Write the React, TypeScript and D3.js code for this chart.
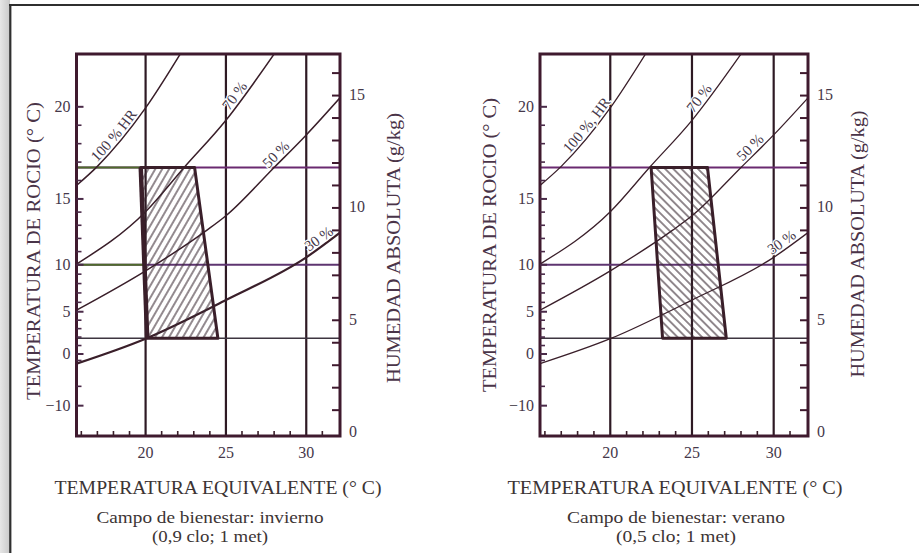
import React from "react";
import * as d3 from "d3";

// temperatura equivalente (°C)
const tempDomain = [15.7, 32.1];
const tempMinorTicks = [16, 17, 18, 19, 21, 22, 23, 24, 26, 27, 28, 29, 31];
const tempGridLines = [20, 25, 30];
const tempLabels = [20, 25, 30];

// humedad absoluta (g/kg)
const humDomain = [-0.15, 16.85];
const humTicks = [1, 2, 3, 4, 5, 6, 7, 8, 9, 10, 11, 12, 13, 14, 15, 16];
const humLabels = [0, 5, 10, 15];

// temperatura de rocio (°C) read against the humidity scale
const dewPoints = [-10, -5, 0, 5, 10, 15, 20];
const dewHumidity = [1.2, 2.06, 3.5, 5.38, 7.47, 10.4, 14.5];
const dewLabels = [-10, 0, 5, 10, 15, 20];
const dewMinorTicks = [-5, -1, 1, 2, 3, 4, 6, 7, 8, 9, 11, 12, 13, 14, 16, 17, 18, 19];
const dewGridLine = 10;

// relative humidity curves: [temperature, g/kg]
const rh100 = [[15.7, 11.0], [17, 11.85], [20, 14.45], [22.2, 16.9]];
const rh70 = [[15.7, 7.5], [20, 9.83], [22.4, 11.8], [25, 13.9], [28.05, 16.9]];
const rh50 = [[15.7, 5.45], [20, 7.2], [23.8, 9.0], [25, 9.65], [28, 11.8], [30, 13.25], [32.1, 14.9]];
const rh30 = [[15.7, 3.07], [20, 4.18], [25, 5.9], [30, 7.8], [32.1, 8.9]];
const rhCurves = [rh100, rh70, rh50, rh30];

// comfort limits
const limitHumidity = [4.2, 11.8];
const winterZone = [[19.7, 11.8], [23.05, 11.8], [24.5, 4.2], [20.1, 4.2]];
const summerZone = [[22.5, 11.8], [25.95, 11.8], [27.1, 4.2], [23.2, 4.2]];

const winterCurveLabels = ["100 % HR", "70 %", "50 %", "30 %"];
const summerCurveLabels = ["100 %, HR", "70 %", "50 %", "30 %"];

const TOP = 54;
const BOTTOM = 436;
const FONT = "'Liberation Serif', 'Times New Roman', serif";
const INK = "#3a1f2a";
const TEXT = "#45384a";

const minus = (d: number) => (d < 0 ? "\u2212" + Math.abs(d) : String(d));

function Panel(props: any) {
  const { id, left, right, zone, hatchAngle, hatchGap, curveLabels, labelAt, curveWidths, green, t } = props;

  const x = d3.scaleLinear().domain(tempDomain).range([left, right]);
  const y = d3.scaleLinear().domain(humDomain).range([BOTTOM, TOP]);
  const dew = d3.scaleLinear().domain(dewPoints).range(dewHumidity);
  const line = d3
    .line<number[]>()
    .x((d) => x(d[0]))
    .y((d) => y(d[1]))
    .curve(d3.curveMonotoneX);
  const zonePath = d3.line<number[]>().x((d) => x(d[0])).y((d) => y(d[1]))(zone) + "Z";

  const hLines = [
    { h: limitHumidity[1], color: "#6a2a70", w: 2 },
    { h: dew(dewGridLine), color: "#5e3570", w: 2 },
    { h: limitHumidity[0], color: "#3d3540", w: 1.5 },
  ];

  return (
    <g>
      <defs>
        <clipPath id={`${id}-clip`}>
          <rect x={left} y={TOP} width={right - left} height={BOTTOM - TOP} />
        </clipPath>
        <pattern
          id={`${id}-hatch`}
          patternUnits="userSpaceOnUse"
          width={hatchGap}
          height={20}
          patternTransform={`rotate(${hatchAngle})`}
        >
          <line x1={hatchGap / 2} y1={-2} x2={hatchGap / 2} y2={22} stroke="#3a2a32" strokeWidth={1.1} />
        </pattern>
      </defs>

      {/* grid */}
      {tempGridLines.map((d) => (
        <line key={`v${d}`} x1={x(d)} x2={x(d)} y1={TOP} y2={BOTTOM} stroke="#2e1a24" strokeWidth={2.2} />
      ))}
      {hLines.map((l, i) => (
        <line key={`h${i}`} x1={left} x2={right} y1={y(l.h)} y2={y(l.h)} stroke={l.color} strokeWidth={l.w} />
      ))}
      {green &&
        hLines.slice(0, 2).map((l, i) => (
          <line key={`g${i}`} x1={left} x2={x(19.9)} y1={y(l.h)} y2={y(l.h)} stroke="#4f6a2c" strokeWidth={2} />
        ))}

      {/* humidity curves */}
      <g clipPath={`url(#${id}-clip)`}>
        {rhCurves.map((c, i) => (
          <path key={`c${i}`} id={`${id}-rh${i}`} d={line(c) || ""} fill="none" stroke={INK} strokeWidth={curveWidths[i]} />
        ))}
      </g>

      {/* comfort zone */}
      <path d={zonePath} fill={`url(#${id}-hatch)`} stroke={INK} strokeWidth={3} strokeLinejoin="round" />
      {green && (
        <line x1={x(zone[0][0])} y1={y(zone[0][1])} x2={x(zone[3][0])} y2={y(zone[3][1])} stroke={INK} strokeWidth={4.5} />
      )}

      {curveLabels.map((s: string, i: number) => (
        <text
          key={`l${i}`}
          fontFamily={FONT}
          fontSize={15}
          fill={TEXT}
          stroke="#fff"
          strokeWidth={2.5}
          paintOrder="stroke"
          textAnchor="middle"
          dy={-3}
          style={{ whiteSpace: "pre" }}
        >
          <textPath href={`#${id}-rh${i}`} startOffset={`${labelAt[i]}%`}>
            {s}
          </textPath>
        </text>
      ))}

      {/* frame */}
      <rect x={left} y={TOP} width={right - left} height={BOTTOM - TOP} fill="none" stroke="#3f1a2e" strokeWidth={3} />

      {/* bottom axis */}
      {tempMinorTicks.map((d) => (
        <line key={`bt${d}`} x1={x(d)} x2={x(d)} y1={BOTTOM} y2={BOTTOM - 5} stroke={INK} strokeWidth={1.6} />
      ))}
      {tempLabels.map((d) => (
        <text key={`bl${d}`} x={x(d)} y={BOTTOM + 22} textAnchor="middle" fontFamily={FONT} fontSize={16} fill={TEXT}>
          {d}
        </text>
      ))}

      {/* left axis: dew point */}
      {dewLabels.map((d) => (
        <line key={`lt${d}`} x1={left} x2={left + 7} y1={y(dew(d))} y2={y(dew(d))} stroke="#4a2a48" strokeWidth={2} />
      ))}
      {dewMinorTicks.map((d) => (
        <line key={`lm${d}`} x1={left} x2={left + 5} y1={y(dew(d))} y2={y(dew(d))} stroke="#4a2a48" strokeWidth={1.6} />
      ))}
      {dewLabels.map((d) => (
        <text
          key={`ll${d}`}
          x={left - 6}
          y={y(dew(d))}
          dominantBaseline="central"
          textAnchor="end"
          fontFamily={FONT}
          fontSize={16}
          fill={TEXT}
        >
          {minus(d)}
        </text>
      ))}

      {/* right axis: absolute humidity */}
      {humTicks.map((d) => (
        <line key={`rt${d}`} x1={right} x2={right - 8} y1={y(d)} y2={y(d)} stroke="#3f1a2e" strokeWidth={2} />
      ))}
      {humLabels.map((d) => (
        <text
          key={`rl${d}`}
          x={right + 9}
          y={y(d) - 1}
          dominantBaseline="central"
          fontFamily={FONT}
          fontSize={16}
          fill={TEXT}
        >
          {d}
        </text>
      ))}

      {/* titles */}
      <text
        transform={`translate(${t.dewX},${t.dewY}) rotate(-90)`}
        textAnchor="middle"
        dominantBaseline="central"
        fontFamily={FONT}
        fontSize={18}
        fill="#4a3448"
        textLength={t.dewLen}
        lengthAdjust="spacingAndGlyphs"
      >
        TEMPERATURA DE ROCIO (° C)
      </text>
      <text
        transform={`translate(${t.humX},${t.humY}) rotate(-90)`}
        textAnchor="middle"
        dominantBaseline="central"
        fontFamily={FONT}
        fontSize={18}
        fill="#4a3448"
        textLength={t.humLen}
        lengthAdjust="spacingAndGlyphs"
      >
        HUMEDAD ABSOLUTA (g/kg)
      </text>
      <text
        x={t.xX}
        y={494}
        textAnchor="middle"
        fontFamily={FONT}
        fontSize={18}
        fill="#3c3434"
        textLength={t.xLen}
        lengthAdjust="spacingAndGlyphs"
      >
        TEMPERATURA EQUIVALENTE (° C)
      </text>
      <text
        x={t.subX}
        y={523}
        textAnchor="middle"
        fontFamily={FONT}
        fontSize={17}
        fill="#3c3434"
        textLength={t.sub1Len}
        lengthAdjust="spacingAndGlyphs"
      >
        {t.sub1}
      </text>
      <text
        x={t.subX}
        y={542}
        textAnchor="middle"
        fontFamily={FONT}
        fontSize={17}
        fill="#3c3434"
        textLength={t.sub2Len}
        lengthAdjust="spacingAndGlyphs"
      >
        {t.sub2}
      </text>
    </g>
  );
}

export default function App() {
  return (
    <svg width={919} height={553} style={{ position: "absolute", left: 0, top: 0, background: "#fff" }}>
      <defs>
        <linearGradient id="edge" x1="0" x2="1" y1="0" y2="0">
          <stop offset="0" stopColor="#e6e6e6" />
          <stop offset="1" stopColor="#c9c9c9" />
        </linearGradient>
      </defs>
      <rect x={0} y={0} width={919} height={553} fill="#fff" />
      <rect x={0} y={0} width={10} height={553} fill="url(#edge)" />
      <line x1={9} x2={919} y1={5} y2={5} stroke="#2f2f2f" strokeWidth={2} />
      <line x1={10.3} x2={10.3} y1={4} y2={553} stroke="#2f2f2f" strokeWidth={2.2} />

      <Panel
        id="inv"
        left={76.5}
        right={340}
        zone={winterZone}
        hatchAngle={30}
        hatchGap={6}
        curveLabels={winterCurveLabels}
        labelAt={[37, 80, 75, 93]}
        curveWidths={[1.5, 1.5, 1.5, 2.2]}
        green={true}
        t={{
          dewX: 34, dewY: 251, dewLen: 298,
          humX: 394, humY: 248, humLen: 270,
          xX: 218, xLen: 327,
          subX: 210, sub1: "Campo de bienestar: invierno", sub1Len: 227,
          sub2: "(0,9 clo; 1 met)", sub2Len: 116,
        }}
      />
      <Panel
        id="ver"
        left={540}
        right={808}
        zone={summerZone}
        hatchAngle={-45}
        hatchGap={5.8}
        curveLabels={summerCurveLabels}
        labelAt={[45, 79, 78, 91]}
        curveWidths={[1.3, 1.3, 1.3, 1.3]}
        green={false}
        t={{
          dewX: 490, dewY: 245, dewLen: 294,
          humX: 858, humY: 244, humLen: 267,
          xX: 675, xLen: 335,
          subX: 676, sub1: "Campo de bienestar: verano", sub1Len: 218,
          sub2: "(0,5 clo; 1 met)", sub2Len: 120,
        }}
      />
    </svg>
  );
}
